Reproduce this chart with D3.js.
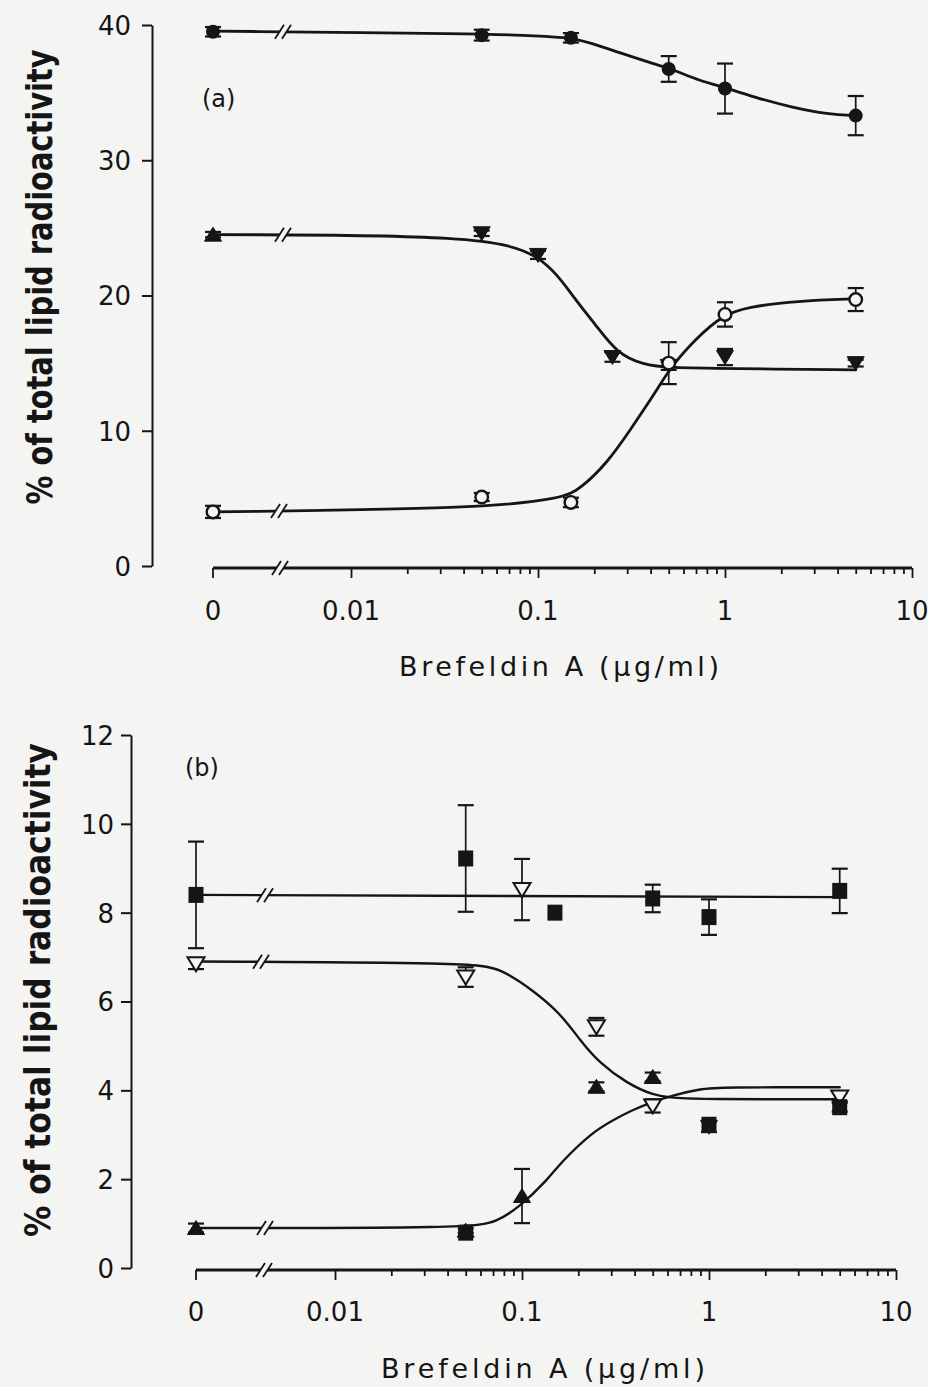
<!DOCTYPE html>
<html>
<head>
<meta charset="utf-8">
<script src="https://cdn.jsdelivr.net/npm/d3@7"></script>
<style>
  html, body { margin: 0; padding: 0; background: #f4f4f2; }
  svg { display: block; }
</style>
</head>
<body>
<svg id="fig" width="928" height="1387"></svg>
<script>
// ---------------- Panel (a) measurements ----------------
const concA_circle = [0, 0.05, 0.15, 0.5, 1, 5];
const valA_circle  = [39.5, 39.25, 39.05, 36.75, 35.3, 33.3];
const errA_circle  = [0.35, 0.4, 0.35, 0.95, 1.85, 1.45];

const concA_tri  = [0, 0.05, 0.1, 0.25, 0.5, 1, 5];
const valA_tri   = [24.5, 24.6, 23.0, 15.45, 14.8, 15.45, 15.0];
const errA_tri   = [0.2, 0.2, 0.3, 0.35, 0.3, 0.6, 0.25];
const shapeA_tri = ["triUp", "triDown", "triDown", "triDown", "triDown", "triDown", "triDown"];

const concA_open = [0, 0.05, 0.15, 0.5, 1, 5];
const valA_open  = [4.0, 5.1, 4.7, 15.0, 18.6, 19.7];
const errA_open  = [0.45, 0.3, 0.35, 1.55, 0.9, 0.85];

// fitted dose-response curves, panel (a)
const fitA_circleConc = [0, 0.05, 0.1, 0.15, 0.19, 0.28, 0.4, 0.53, 0.72, 1.05, 1.48, 2.3, 3.55, 5];
const fitA_circleVal  = [39.55, 39.35, 39.2, 39.05, 38.7, 37.9, 37.2, 36.7, 35.9, 35.3, 34.6, 33.9, 33.4, 33.3];
const fitA_triConc    = [0, 0.05, 0.107, 0.154, 0.207, 0.264, 0.364, 0.508, 1, 5];
const fitA_triVal     = [24.5, 24.45, 23.0, 19.9, 17.7, 15.75, 14.87, 14.65, 14.6, 14.5];
const fitA_openConc   = [0, 0.05, 0.136, 0.168, 0.234, 0.311, 0.433, 0.508, 0.708, 0.975, 1.31, 2.43, 5];
const fitA_openVal    = [4.0, 4.25, 5.0, 5.7, 7.6, 10.05, 13.0, 14.65, 16.9, 18.55, 19.15, 19.6, 19.75];

// ---------------- Panel (b) measurements ----------------
const concB_sq = [0, 0.05, 0.15, 0.5, 1, 5];
const valB_sq  = [8.4, 9.22, 8.0, 8.32, 7.9, 8.49];
const errB_sq  = [1.2, 1.2, 0, 0.31, 0.4, 0.5];

const concB_open = [0, 0.05, 0.1, 0.25, 0.5, 5];
const valB_open  = [6.85, 6.55, 8.52, 5.43, 3.65, 3.85];
const errB_open  = [0.12, 0.22, 0.69, 0.2, 0.15, 0.1];

const concB_tri  = [0, 0.05, 0.1, 0.25, 0.5, 1, 5];
const valB_tri   = [0.9, 0.84, 1.62, 4.08, 4.3, 3.18, 3.62];
const errB_tri   = [0.1, 0.05, 0.61, 0.1, 0.1, 0.12, 0.1];
const shapeB_tri = ["triUp", "triUpSquare", "triUp", "triUp", "triUp", "squareTriDown", "square"];

// fitted curves, panel (b)
const fitB_sqConc   = [0, 5];
const fitB_sqVal    = [8.4, 8.35];
const fitB_decConc  = [0, 0.054, 0.076, 0.114, 0.16, 0.204, 0.26, 0.364, 0.5, 0.64, 0.895, 5];
const fitB_decVal   = [6.9, 6.87, 6.75, 6.26, 5.74, 5.13, 4.61, 4.16, 3.89, 3.83, 3.8, 3.8];
const fitB_riseConc = [0, 0.054, 0.073, 0.097, 0.138, 0.16, 0.236, 0.307, 0.39, 0.5, 0.64, 0.895, 1.15, 5];
const fitB_riseVal  = [0.9, 0.9, 1.04, 1.37, 2.0, 2.36, 3.05, 3.33, 3.56, 3.74, 3.89, 4.03, 4.07, 4.07];

// ---------------- axis text ----------------
const yTicksA = [0, 10, 20, 30, 40];
const yTicksB = [0, 2, 4, 6, 8, 10, 12];
const xTickValues = [0, 0.01, 0.1, 1, 10];
const xTickLabels = ["0", "0.01", "0.1", "1", "10"];
const xTitle = "Brefeldin A (\u00b5g/ml)";
const yTitle = "% of total lipid radioactivity";

// ---------------- drawing ----------------
const W = 928, H = 1387;
const ink = "#151515", paper = "#f4f4f2";
const tickFont = "'DejaVu Sans', 'Noto Sans', sans-serif";
const titleFont = "'Liberation Sans Narrow', 'DejaVu Sans Condensed', 'Arial Narrow', 'DejaVu Sans', sans-serif";

const svg = d3.select("#fig");
svg.append("rect").attr("width", W).attr("height", H).attr("fill", paper);

// concentration axis: log scale for positive doses, zero placed left of a break
function makeX(zeroPx, lo, hi) {
  const log = d3.scaleLog().domain([0.01, 10]).range([lo, hi]);
  const f = v => (v === 0 ? zeroPx : log(v));
  f.log = log;
  f.zero = zeroPx;
  return f;
}

function fitText(sel, target) {
  const nat = sel.node().getComputedTextLength();
  sel.attr("textLength", target)
     .attr("lengthAdjust", nat < target ? "spacing" : "spacingAndGlyphs");
}

function drawBreak(g, bx, by, h) {
  h = h || 7;
  g.append("polygon")
    .attr("points", [[bx - 9, by + h], [bx, by - h], [bx + 7, by - h], [bx - 2, by + h]].join(" "))
    .attr("fill", paper);
  [[-9, 0], [-2, 7]].forEach(([a, b]) => {
    g.append("line")
      .attr("x1", bx + a).attr("y1", by + h)
      .attr("x2", bx + b).attr("y2", by - h)
      .attr("stroke", ink).attr("stroke-width", 1.8);
  });
}

function drawMarker(g, shape, cx, cy) {
  const tri = (dir, fill) => {
    const w = 8.5, hh = 6.5;
    const p = dir === "down"
      ? `M${cx - w},${cy - hh}L${cx + w},${cy - hh}L${cx},${cy + hh + 1}Z`
      : `M${cx - w},${cy + hh}L${cx + w},${cy + hh}L${cx},${cy - hh - 1}Z`;
    g.append("path").attr("d", p)
      .attr("fill", fill ? ink : paper)
      .attr("stroke", ink).attr("stroke-width", fill ? 1 : 2)
      .attr("stroke-linejoin", "miter");
  };
  const sq = (dy) => g.append("rect")
    .attr("x", cx - 7.5).attr("y", cy - 8 + (dy || 0))
    .attr("width", 15).attr("height", 16).attr("fill", ink);
  switch (shape) {
    case "circle":
      g.append("circle").attr("cx", cx).attr("cy", cy).attr("r", 7).attr("fill", ink);
      break;
    case "openCircle":
      g.append("circle").attr("cx", cx).attr("cy", cy).attr("r", 6.3)
        .attr("fill", paper).attr("stroke", ink).attr("stroke-width", 2.4);
      break;
    case "triDown": tri("down", true); break;
    case "triUp": tri("up", true); break;
    case "openTriDown": tri("down", false); break;
    case "square": sq(); break;
    case "triUpSquare": sq(2); tri("up", true); break;
    case "squareTriDown": sq(-2); tri("down", true); break;
  }
}

function drawSeries(g, x, y, conc, val, err, shapes) {
  conc.forEach((c, i) => {
    const cx = x(c), cy = y(val[i]);
    if (err[i] > 0) {
      const t = y(val[i] + err[i]), b = y(val[i] - err[i]);
      g.append("line").attr("x1", cx).attr("x2", cx).attr("y1", t).attr("y2", b)
        .attr("stroke", ink).attr("stroke-width", 1.7);
      [t, b].forEach(yy => g.append("line")
        .attr("x1", cx - 8).attr("x2", cx + 8).attr("y1", yy).attr("y2", yy)
        .attr("stroke", ink).attr("stroke-width", 2.2));
    }
  });
  conc.forEach((c, i) => {
    const shape = typeof shapes === "string" ? shapes : shapes[i];
    drawMarker(g, shape, x(c), y(val[i]));
  });
}

function drawFit(g, x, y, conc, val, breakPx, sw) {
  const pts = conc.map((c, i) => [x(c), y(val[i])]);
  g.append("path")
    .attr("d", d3.line().curve(d3.curveBasis)(pts))
    .attr("fill", "none").attr("stroke", ink)
    .attr("stroke-width", sw).attr("stroke-linecap", "round");
  const [x0, y0] = pts[0], [x1, y1] = pts[1];
  const by = y0 + (y1 - y0) * (breakPx - x0) / (x1 - x0);
  drawBreak(g, breakPx, by, 7);
}

function drawYAxis(g, y, axisX, ticks, pad) {
  const ax = g.append("g").attr("transform", `translate(${axisX},0)`)
    .call(d3.axisLeft(y).tickValues(ticks).tickSize(10).tickSizeOuter(0).tickPadding(pad).tickFormat(d3.format("d")));
  ax.attr("font-family", tickFont).attr("font-size", 26);
  ax.select(".domain").attr("stroke", ink).attr("stroke-width", 2);
  ax.selectAll(".tick line").attr("stroke", ink).attr("stroke-width", 2);
  ax.selectAll(".tick text").attr("fill", ink).attr("dy", "0.36em");
}

function drawXAxis(g, x, axisY, breakPx, labelY) {
  const majors = [0.01, 0.1, 1, 10];
  const ax = g.append("g").attr("transform", `translate(0,${axisY})`)
    .call(d3.axisBottom(x.log).tickValues(x.log.ticks()).tickSize(6).tickFormat(""));
  ax.select(".domain").remove();
  ax.selectAll(".tick line")
    .attr("stroke", ink).attr("stroke-width", 1.8)
    .attr("y2", d => (majors.some(m => Math.abs(m - d) < 1e-9) ? 10 : 6));
  // zero tick
  g.append("line").attr("x1", x.zero).attr("x2", x.zero).attr("y1", axisY).attr("y2", axisY + 10)
    .attr("stroke", ink).attr("stroke-width", 1.8);
  // axis line through the break
  g.append("line").attr("x1", x.zero).attr("x2", x(10)).attr("y1", axisY).attr("y2", axisY)
    .attr("stroke", ink).attr("stroke-width", 3);
  drawBreak(g, breakPx, axisY, 7);
  // labels
  g.selectAll(null).data(xTickValues).enter().append("text")
    .attr("x", d => x(d)).attr("y", labelY)
    .attr("text-anchor", "middle")
    .attr("font-family", tickFont).attr("font-size", 26).attr("fill", ink)
    .text((d, i) => xTickLabels[i]);
}

function drawTitles(g, xt, yt) {
  const t1 = g.append("text")
    .attr("x", xt.cx).attr("y", xt.base).attr("text-anchor", "middle")
    .attr("font-family", tickFont).attr("font-size", 27).attr("fill", ink)
    .text(xTitle);
  fitText(t1, xt.len);
  const t2 = g.append("text")
    .attr("transform", `translate(${yt.base},${yt.cy}) rotate(-90)`)
    .attr("text-anchor", "middle")
    .attr("font-family", titleFont).attr("font-weight", "bold")
    .attr("font-size", 35).attr("fill", ink)
    .text(yTitle);
  fitText(t2, yt.len);
}

// ================= Panel (a) =================
const xA = makeX(213, 351, 912);
const yA = d3.scaleLinear().domain([0, 40]).range([566, 25]);
const gA = svg.append("g");

drawYAxis(gA, yA, 152, yTicksA, 11);
drawXAxis(gA, xA, 568, 281, 620);
drawTitles(gA, { cx: 559, base: 676, len: 320 }, { base: 52, cy: 277, len: 455 });
gA.append("text").attr("x", 202).attr("y", 107)
  .attr("font-family", tickFont).attr("font-size", 24).attr("fill", ink).text("(a)");

drawFit(gA, xA, yA, fitA_circleConc, fitA_circleVal, 284, 2.8);
drawFit(gA, xA, yA, fitA_triConc, fitA_triVal, 284, 2.8);
drawFit(gA, xA, yA, fitA_openConc, fitA_openVal, 280, 2.8);

drawSeries(gA, xA, yA, concA_circle, valA_circle, errA_circle, "circle");
drawSeries(gA, xA, yA, concA_tri, valA_tri, errA_tri, shapeA_tri);
drawSeries(gA, xA, yA, concA_open, valA_open, errA_open, "openCircle");

// ================= Panel (b) =================
const xB = makeX(196, 335, 896);
const yB = d3.scaleLinear().domain([0, 12]).range([1268, 735]);
const gB = svg.append("g");

drawYAxis(gB, yB, 131, yTicksB, 7);
drawXAxis(gB, xB, 1270, 265, 1321);
drawTitles(gB, { cx: 543, base: 1378, len: 324 }, { base: 50, cy: 990, len: 494 });
gB.append("text").attr("x", 185).attr("y", 776)
  .attr("font-family", tickFont).attr("font-size", 24).attr("fill", ink).text("(b)");

drawFit(gB, xB, yB, fitB_sqConc, fitB_sqVal, 266, 2.4);
drawFit(gB, xB, yB, fitB_decConc, fitB_decVal, 262, 2.4);
drawFit(gB, xB, yB, fitB_riseConc, fitB_riseVal, 266, 2.4);

drawSeries(gB, xB, yB, concB_sq, valB_sq, errB_sq, "square");
drawSeries(gB, xB, yB, concB_open, valB_open, errB_open, "openTriDown");
drawSeries(gB, xB, yB, concB_tri, valB_tri, errB_tri, shapeB_tri);
</script>
</body>
</html>
